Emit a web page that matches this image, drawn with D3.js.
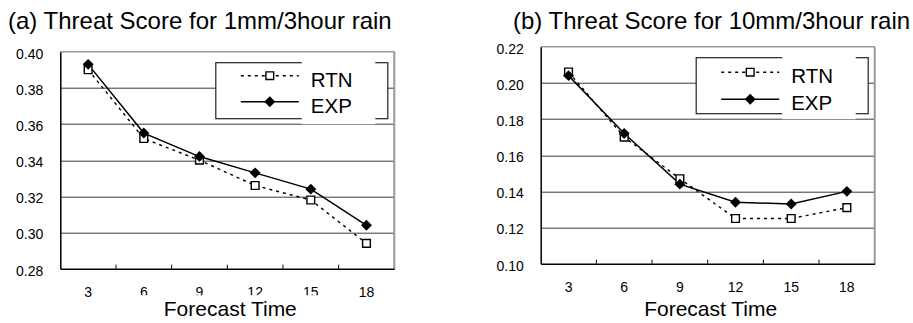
<!DOCTYPE html>
<html>
<head>
<meta charset="utf-8">
<script src="https://cdn.jsdelivr.net/npm/d3@7"></script>
<style>
  body { margin: 0; background: #fff; }
  svg { display: block; font-family: Arial, 'Liberation Sans', sans-serif; }
</style>
</head>
<body>
<svg id="chart" width="913" height="323"></svg>
<script>
// forecast hours on the x axis
const forecastHours = [3, 6, 9, 12, 15, 18];

// (a) 1mm/3hour
const rtn1mm = [0.390, 0.352, 0.340, 0.326, 0.318, 0.294];
const exp1mm = [0.393, 0.355, 0.342, 0.333, 0.324, 0.304];
const yTicks1mm = [0.28, 0.30, 0.32, 0.34, 0.36, 0.38, 0.40];

// (b) 10mm/3hour
const rtn10mm = [0.206, 0.170, 0.147, 0.125, 0.125, 0.131];
const exp10mm = [0.204, 0.172, 0.144, 0.134, 0.133, 0.140];
const yTicks10mm = [0.10, 0.12, 0.14, 0.16, 0.18, 0.20, 0.22];

const seriesNames = ['RTN', 'EXP'];

const svg = d3.select('#chart');

function drawPanel(cfg) {
  const w = 334, h = 217;
  const g = svg.append('g').attr('transform', 'translate(' + cfg.left + ',' + cfg.top + ')');

  const x = d3.scaleBand().domain(forecastHours).range([0, w]).padding(0);
  const y = d3.scaleLinear().domain(d3.extent(cfg.yTicks)).range([h, 0]);
  const cx = d => x(d) + x.bandwidth() / 2;

  // title
  svg.append('text')
    .attr('x', cfg.titleX).attr('y', cfg.titleY)
    .attr('font-size', 24)
    .attr('fill', '#000')
    .text(cfg.title);

  // horizontal gridlines
  g.append('g').selectAll('line')
    .data(cfg.yTicks.slice(1, -1))
    .enter().append('line')
    .attr('x1', 0).attr('x2', w)
    .attr('y1', d => Math.round(y(d)) + 0.5)
    .attr('y2', d => Math.round(y(d)) + 0.5)
    .attr('stroke', '#3a3a3a')
    .attr('stroke-width', 1);

  // top and right frame (grey)
  g.append('line').attr('x1', 0).attr('x2', w).attr('y1', 0).attr('y2', 0)
    .attr('stroke', '#999').attr('stroke-width', 1.5);
  g.append('line').attr('x1', w).attr('x2', w).attr('y1', 0).attr('y2', h)
    .attr('stroke', '#999').attr('stroke-width', 2);

  // y axis
  const yAxis = d3.axisLeft(y).tickValues(cfg.yTicks).tickFormat(d3.format('.2f')).tickSize(0).tickPadding(17);
  const ya = g.append('g').call(yAxis);
  ya.select('.domain').attr('stroke', '#000').attr('stroke-width', 1.5);
  ya.selectAll('text').attr('font-size', 14).attr('font-family', null).attr('fill', '#000').attr('dy', '0.45em');

  // x axis labels at band centers
  const xAxis = d3.axisBottom(x).tickSize(0).tickPadding(18);
  const xa = g.append('g').attr('transform', 'translate(0,' + h + ')').call(xAxis);
  xa.select('.domain').attr('stroke', '#000').attr('stroke-width', 1.5);
  xa.selectAll('text').attr('font-size', 14).attr('font-family', null).attr('fill', '#000');

  // inward tick marks on band boundaries
  g.append('g').selectAll('line')
    .data(forecastHours.slice(1))
    .enter().append('line')
    .attr('x1', d => x(d)).attr('x2', d => x(d))
    .attr('y1', h).attr('y2', h - 4)
    .attr('stroke', '#000').attr('stroke-width', 1);

  // axis title (panel a has a white box clipping the tick labels)
  const titleBase = 316 - cfg.top;
  if (cfg.clipLabels) {
    g.append('rect')
      .attr('x', 72).attr('y', h + 26.5)
      .attr('width', 200).attr('height', 40)
      .attr('fill', '#fff');
  }
  g.append('text')
    .attr('x', 170).attr('y', titleBase)
    .attr('text-anchor', 'middle')
    .attr('font-size', 21)
    .attr('fill', '#000')
    .text('Forecast Time');

  // lines
  const line = d3.line().x((d, i) => cx(forecastHours[i])).y(d => y(d));

  g.append('path').datum(cfg.rtn)
    .attr('d', line)
    .attr('fill', 'none')
    .attr('stroke', '#000')
    .attr('stroke-width', 1.4)
    .attr('stroke-dasharray', '3,4');

  g.append('path').datum(cfg.exp)
    .attr('d', line)
    .attr('fill', 'none')
    .attr('stroke', '#000')
    .attr('stroke-width', 1.5);

  const square = d3.symbol(d3.symbolSquare, 60);
  const diamond = d3.symbol(d3.symbolSquare, 60);

  g.append('g').selectAll('path')
    .data(cfg.rtn)
    .enter().append('path')
    .attr('d', square)
    .attr('transform', (d, i) => 'translate(' + cx(forecastHours[i]) + ',' + y(d) + ')')
    .attr('fill', '#fff')
    .attr('stroke', '#000')
    .attr('stroke-width', 1.4);

  g.append('g').selectAll('path')
    .data(cfg.exp)
    .enter().append('path')
    .attr('d', diamond)
    .attr('transform', (d, i) => 'translate(' + cx(forecastHours[i]) + ',' + y(d) + ') rotate(45)')
    .attr('fill', '#000');

  // legend
  const lg = g.append('g').attr('transform', 'translate(155.5,11)');
  lg.append('rect')
    .attr('x', 0).attr('y', 0).attr('width', 172).attr('height', 56)
    .attr('fill', '#fff').attr('stroke', '#222').attr('stroke-width', 1.2);
  lg.append('rect')
    .attr('x', 86).attr('y', -1.5).attr('width', 73.5).attr('height', 63)
    .attr('fill', '#fff');

  const rows = [cfg.legendY[0], cfg.legendY[1]];
  seriesNames.forEach(function (name, i) {
    const ly = rows[i];
    lg.append('line')
      .attr('x1', 25).attr('x2', 83).attr('y1', ly).attr('y2', ly)
      .attr('stroke', '#000')
      .attr('stroke-width', i === 0 ? 1.4 : 1.5)
      .attr('stroke-dasharray', i === 0 ? '3,4' : null);
    lg.append('path')
      .attr('d', i === 0 ? square : diamond)
      .attr('transform', 'translate(54,' + ly + ')' + (i === 0 ? '' : ' rotate(45)'))
      .attr('fill', i === 0 ? '#fff' : '#000')
      .attr('stroke', i === 0 ? '#000' : null)
      .attr('stroke-width', 1.4);
    lg.append('text')
      .attr('x', 95).attr('y', ly + 11)
      .attr('font-size', 20.5)
      .attr('fill', '#000')
      .text(name);
  });
}

drawPanel({
  left: 60.3, top: 51.7,
  title: '(a) Threat Score for 1mm/3hour rain', titleX: 8, titleY: 29,
  rtn: rtn1mm, exp: exp1mm, yTicks: yTicks1mm,
  legendY: [13, 39], clipLabels: true
});

drawPanel({
  left: 540.7, top: 46.7,
  title: '(b) Threat Score for 10mm/3hour rain', titleX: 513, titleY: 28.5,
  rtn: rtn10mm, exp: exp10mm, yTicks: yTicks10mm,
  legendY: [14.5, 41.5], clipLabels: false
});
</script>
</body>
</html>
